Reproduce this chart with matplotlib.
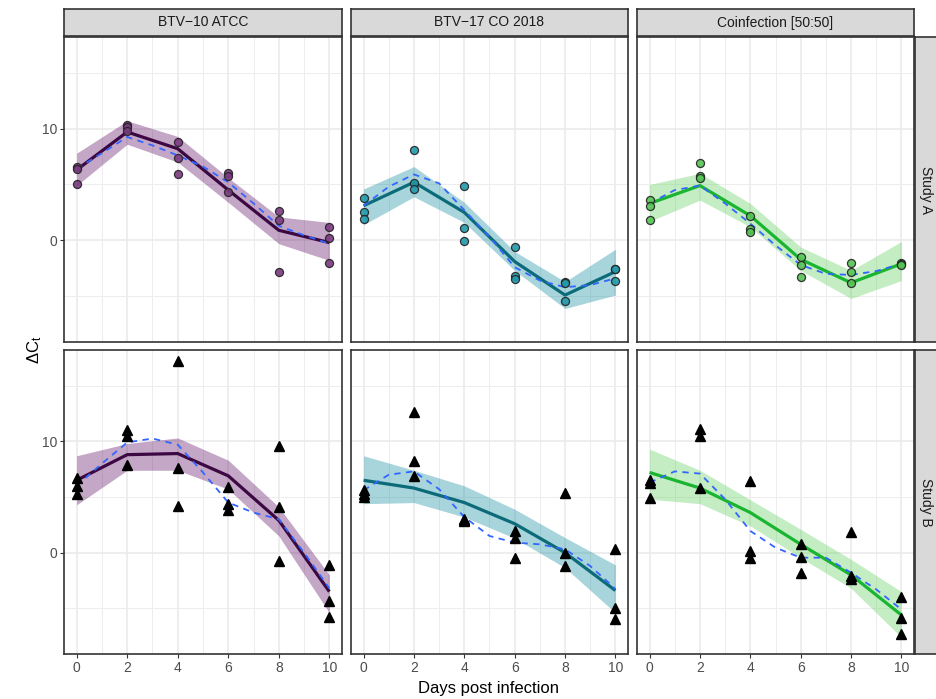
import matplotlib
matplotlib.use('Agg')
import matplotlib.pyplot as plt

plt.rcParams['font.family'] = ['Liberation Sans', 'DejaVu Sans']
plt.rcParams['mathtext.default'] = 'regular'

# ---- data ----
days = [0, 2, 4, 6, 8, 10]
smooth_days = [0, 1, 2, 3, 4, 5, 6, 7, 8, 9, 10]

strains = ['BTV\u221210 ATCC', 'BTV\u221217 CO 2018', 'Coinfection [50:50]']
studies = ['Study A', 'Study B']

# Study A
a_btv10_pts = [[6.6, 6.4, 5.0], [10.3, 10.1, 9.8], [8.8, 7.4, 5.9],
               [6.0, 5.8, 4.3], [2.6, 1.8, -2.8], [1.2, 0.25, -2.0]]
a_btv10_fit = [6.3, 9.7, 8.2, 4.5, 0.9, -0.2]
a_btv10_lo = [4.9, 8.6, 7.0, 3.4, -0.3, -1.8]
a_btv10_hi = [7.8, 10.7, 9.3, 5.6, 2.1, 1.6]
a_btv10_smooth = [6.4, 7.8, 9.25, 8.5, 7.6, 6.6, 5.2, 3.3, 1.3, 0.45, -0.3]

a_btv17_pts = [[3.8, 2.5, 1.9], [8.05, 5.1, 4.6], [4.9, 1.1, -0.05],
               [-0.6, -3.2, -3.5], [-3.7, -3.8, -5.4], [-2.6, -2.6, -3.6]]
a_btv17_fit = [3.1, 5.2, 2.5, -1.9, -4.9, -2.8]
a_btv17_lo = [1.4, 3.9, 1.6, -2.7, -6.1, -4.9]
a_btv17_hi = [4.6, 6.6, 3.4, -1.0, -3.7, -0.8]
a_btv17_smooth = [3.1, 4.8, 5.9, 5.1, 2.7, 0.3, -2.4, -3.6, -4.2, -4.0, -3.4]

a_coinf_pts = [[3.6, 3.1, 1.85], [6.9, 5.8, 5.6], [2.2, 1.05, 0.75],
               [-1.5, -2.2, -3.3], [-2.0, -2.8, -3.8], [-2.0, -2.1, -2.2]]
a_coinf_fit = [3.3, 4.9, 2.2, -1.7, -3.8, -2.1]
a_coinf_lo = [1.7, 3.6, 1.2, -2.7, -5.2, -3.6]
a_coinf_hi = [5.0, 6.0, 3.3, -0.6, -2.7, -0.1]
a_coinf_smooth = [3.3, 4.5, 4.9, 3.3, 1.5, -0.45, -2.2, -3.0, -3.1, -2.75, -2.1]

# Study B
b_btv10_pts = [[6.7, 6.0, 5.3], [11.0, 10.5, 7.9], [17.2, 7.6, 4.2],
               [5.9, 4.4, 3.8], [9.6, 4.1, -0.75], [-1.15, -4.3, -5.8]]
b_btv10_fit = [6.5, 8.8, 8.9, 6.9, 2.9, -3.5]
b_btv10_lo = [4.3, 7.4, 7.4, 5.7, 1.5, -5.4]
b_btv10_hi = [8.7, 9.8, 10.3, 8.3, 4.1, -2.0]
b_btv10_smooth = [6.0, 8.0, 9.9, 10.25, 9.7, 7.2, 4.5, 3.6, 3.0, 0.0, -3.2]

b_btv17_pts = [[5.6, 5.3, 5.0], [12.6, 8.2, 6.9], [3.0, 2.9, 2.8],
               [1.95, 1.35, -0.5], [5.4, 0.0, -1.2], [0.35, -5.0, -6.0]]
b_btv17_fit = [6.5, 5.8, 4.5, 2.6, 0.0, -3.4]
b_btv17_lo = [4.4, 4.5, 3.2, 1.3, -1.35, -5.4]
b_btv17_hi = [8.7, 7.4, 6.0, 3.9, 1.35, -1.1]
b_btv17_smooth = [5.6, 7.0, 7.3, 5.7, 3.2, 1.5, 0.9, 0.75, 0.3, -1.2, -3.25]

b_coinf_pts = [[6.5, 6.3, 4.9], [11.15, 10.5, 5.8], [6.4, 0.15, -0.45],
               [0.75, -0.35, -1.8], [1.85, -2.1, -2.4], [-4.0, -5.9, -7.3]]
b_coinf_fit = [7.2, 5.8, 3.6, 0.75, -2.0, -5.6]
b_coinf_lo = [4.8, 4.4, 2.4, -0.45, -3.2, -7.6]
b_coinf_hi = [9.3, 7.4, 4.75, 2.1, -0.6, -3.5]
b_coinf_smooth = [6.3, 7.3, 7.1, 4.8, 1.95, 0.45, -0.45, -0.45, -1.8, -3.3, -5.1]

panels = [
    [(a_btv10_pts, a_btv10_fit, a_btv10_lo, a_btv10_hi, a_btv10_smooth),
     (a_btv17_pts, a_btv17_fit, a_btv17_lo, a_btv17_hi, a_btv17_smooth),
     (a_coinf_pts, a_coinf_fit, a_coinf_lo, a_coinf_hi, a_coinf_smooth)],
    [(b_btv10_pts, b_btv10_fit, b_btv10_lo, b_btv10_hi, b_btv10_smooth),
     (b_btv17_pts, b_btv17_fit, b_btv17_lo, b_btv17_hi, b_btv17_smooth),
     (b_coinf_pts, b_coinf_fit, b_coinf_lo, b_coinf_hi, b_coinf_smooth)],
]

# colours per strain
line_cols = ['#3B0842', '#0C6B78', '#19B531']
ribbon_cols = ['#56005C', '#06849B', '#59CE54']
point_cols = ['#7A3A80', '#2299AA', '#55C455']

# ---- layout (pixels) ----
W, H = 937, 699
fig = plt.figure(figsize=(W / 100, H / 100), dpi=100)


def px_axes(l, t, r, b, **kw):
    return fig.add_axes([l / W, 1 - b / H, (r - l) / W, (b - t) / H], **kw)


col_x = [(64, 342), (351, 628), (637, 914)]
row_y = [(37, 342), (350, 654)]
border = '#333333'

for r, (t, b) in enumerate(row_y):
    for c, (l, rr) in enumerate(col_x):
        pts, fit, lo, hi, sm = panels[r][c]
        ax = px_axes(l, t, rr, b)
        ax.fill_between(days, lo, hi, color=ribbon_cols[c], alpha=0.35,
                        linewidth=0, zorder=2)
        ax.plot(days, fit, color=line_cols[c], lw=2.3, zorder=3,
                solid_capstyle='butt')
        ax.plot(smooth_days, sm, color='#3366FF', lw=1.3, dashes=(3.5, 3),
                zorder=4)
        for d, vals in zip(days, pts):
            xs = [d] * len(vals)
            if r == 0:
                ax.plot(xs, vals, 'o', ms=5.8, mfc=point_cols[c], mec='#222222',
                        mew=0.9, alpha=0.9, zorder=5, linestyle='none')
            else:
                ax.plot(xs, vals, '^', ms=7, color='black', zorder=5,
                        linestyle='none')

        ax.set_xlim(-0.5, 10.5)
        ax.set_ylim(-9.1, 18.2)
        ax.set_xticks(days)
        ax.set_xticks([1, 3, 5, 7, 9], minor=True)
        ax.set_yticks([0, 10])
        ax.set_yticks([-5, 5, 15], minor=True)
        ax.grid(which='major', color='#EBEBEB', lw=1.2, zorder=0)
        ax.grid(which='minor', color='#EDEDED', lw=0.7, zorder=0)
        ax.set_axisbelow(True)
        for s in ax.spines.values():
            s.set_color(border)
            s.set_linewidth(1.2)
        ax.tick_params(which='minor', length=0)
        ax.tick_params(which='major', length=3, width=0.8, color=border,
                       labelcolor='#4D4D4D', labelsize=10, pad=2)
        if c != 0:
            ax.tick_params(axis='y', left=False, labelleft=False)
        if r != 1:
            ax.tick_params(axis='x', bottom=False, labelbottom=False)

# column strips
for c, (l, rr) in enumerate(col_x):
    sax = px_axes(l, 9, rr, 36, facecolor='#D9D9D9')
    sax.set_xticks([])
    sax.set_yticks([])
    for s in sax.spines.values():
        s.set_color(border)
        s.set_linewidth(1.2)
    sax.text(0.5, 0.5, strains[c], ha='center', va='center', fontsize=10,
             color='#1A1A1A', transform=sax.transAxes)

# row strips
for r, (t, b) in enumerate(row_y):
    sax = px_axes(915, t, 948, b, facecolor='#D9D9D9')
    sax.set_xticks([])
    sax.set_yticks([])
    for s in sax.spines.values():
        s.set_color(border)
        s.set_linewidth(1.2)
    sax.text(11 / 33, 0.5, studies[r], ha='center', va='center', fontsize=10,
             color='#1A1A1A', rotation=-90, transform=sax.transAxes)

fig.text(489 / W, 1 - 688 / H, 'Days post infection', ha='center', va='center',
         fontsize=12, color='black')
fig.text(35 / W, 1 - 350 / H, '\u0394C$_{t}$', ha='center', va='center',
         fontsize=12, color='black', rotation=90)

fig.savefig('out.png', dpi=100)
